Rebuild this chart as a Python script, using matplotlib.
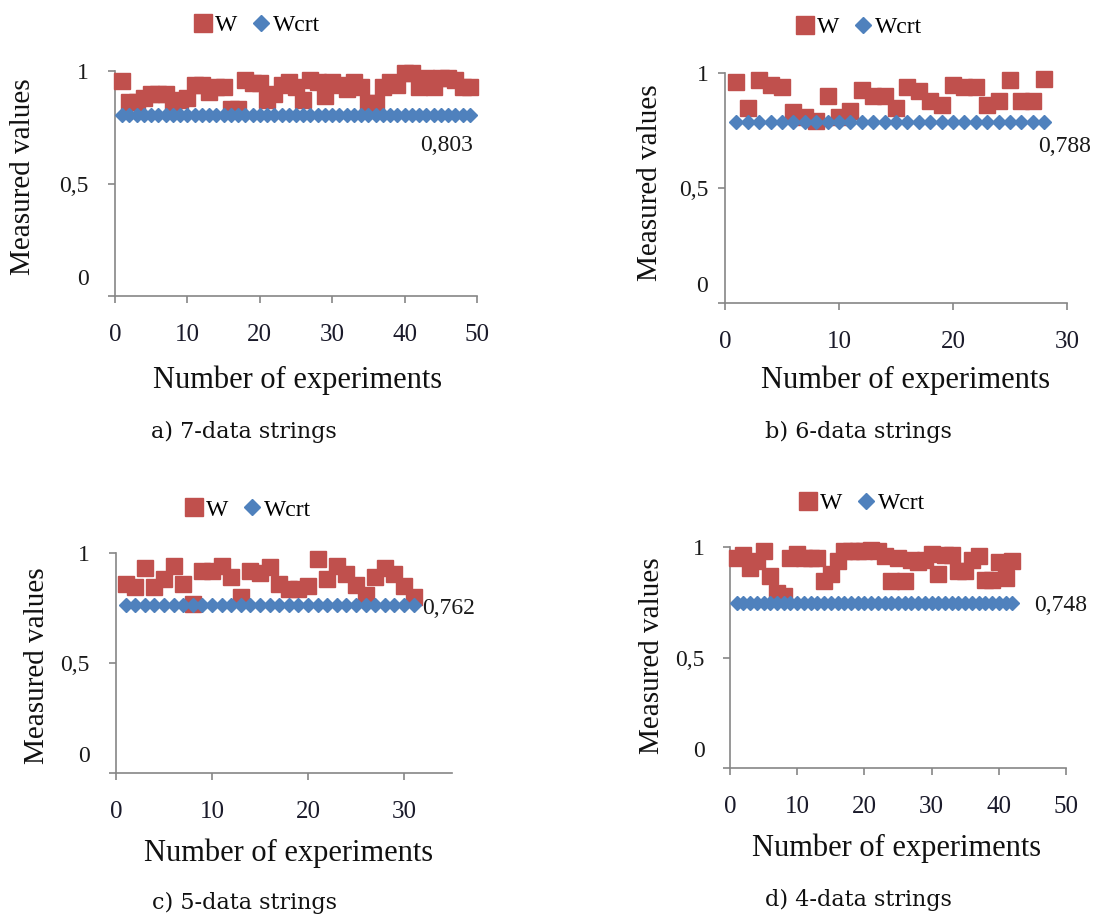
import matplotlib
matplotlib.use('Agg')
import matplotlib.pyplot as plt
from matplotlib.lines import Line2D
from matplotlib.transforms import ScaledTranslation

# ---------------- data ----------------
W_a = [0.955, 0.864, 0.864, 0.88, 0.90, 0.90, 0.90, 0.83, 0.87, 0.88,
       0.94, 0.94, 0.905, 0.93, 0.93, 0.83, 0.83, 0.96, 0.945, 0.945,
       0.87, 0.90, 0.94, 0.95, 0.93, 0.87, 0.96, 0.95, 0.89, 0.95,
       0.94, 0.92, 0.95, 0.93, 0.86, 0.86, 0.93, 0.95, 0.94, 0.99,
       0.99, 0.93, 0.97, 0.93, 0.97, 0.97, 0.96, 0.93, 0.93]
Wcrt_a = 0.803

W_b = [0.96, 0.85, 0.97, 0.95, 0.94, 0.83, 0.81, 0.79, 0.90, 0.81,
       0.835, 0.925, 0.90, 0.90, 0.85, 0.94, 0.92, 0.88, 0.86, 0.95,
       0.94, 0.94, 0.86, 0.88, 0.97, 0.88, 0.88, 0.975]
Wcrt_b = 0.788

W_c = [0.86, 0.845, 0.93, 0.845, 0.88, 0.94, 0.86, 0.77, 0.92, 0.92,
       0.94, 0.89, 0.80, 0.92, 0.91, 0.935, 0.86, 0.835, 0.835, 0.85,
       0.975, 0.88, 0.94, 0.905, 0.855, 0.81, 0.89, 0.93, 0.905, 0.85,
       0.80]
Wcrt_c = 0.762

W_d = [0.95, 0.965, 0.905, 0.935, 0.98, 0.87, 0.79, 0.78, 0.95, 0.97,
       0.95, 0.95, 0.95, 0.845, 0.88, 0.935, 0.98, 0.98, 0.98, 0.98,
       0.988, 0.98, 0.958, 0.845, 0.95, 0.845, 0.94, 0.93, 0.94, 0.97,
       0.88, 0.965, 0.965, 0.89, 0.89, 0.94, 0.958, 0.85, 0.85, 0.93,
       0.86, 0.935]
Wcrt_d = 0.748

captions = ["a) 7-data strings", "b) 6-data strings",
            "c) 5-data strings", "d) 4-data strings"]
ytick_vals = [0, 0.5, 1]
ytick_labels = ["0", "0,5", "1"]
xlabel_text = "Number of experiments"
ylabel_text = "Measured values"
series_names = ["W", "Wcrt"]
crt_labels = ["0,803", "0,788", "0,762", "0,748"]

# ---------------- style ----------------
W_COLOR = '#C0504D'
CRT_COLOR = '#4F81BD'
AX_COLOR = '#868686'
SERIF = ['Liberation Serif', 'DejaVu Serif']
CAP_FONT = ['DejaVu Serif']

FW, FH = 1094, 915
fig = plt.figure(figsize=(FW / 100, FH / 100), dpi=100)


def fx(px):
    return px / FW


def fy(py):
    return 1 - py / FH


# layout per panel (pixel coordinates in the reference)
layouts = [
    dict(W=W_a, crt=Wcrt_a, xmax=50, x0=115, x1=477, ytop=71, ybot=296,
         ypad=14, leg=(257, 25), ylab=(23, 177), xlab=(298, 380),
         cap=(244, 432), crt_off=(-17, -22), crt_ha='center'),
    dict(W=W_b, crt=Wcrt_b, xmax=30, x0=725, x1=1067, ytop=73, ybot=303,
         ypad=7, leg=(859, 27), ylab=(650, 183), xlab=(906, 380),
         cap=(858, 432), crt_off=(15, -18), crt_ha='center'),
    dict(W=W_c, crt=Wcrt_c, xmax=35, x0=116, x1=452, ytop=553, ybot=773,
         ypad=14, leg=(248, 510), ylab=(37, 666), xlab=(289, 853),
         cap=(245, 903), crt_off=(6, -2), crt_ha='left'),
    dict(W=W_d, crt=Wcrt_d, xmax=50, x0=730, x1=1066, ytop=547, ybot=768,
         ypad=13, leg=(862, 503), ylab=(652, 656), xlab=(897, 848),
         cap=(858, 900), crt_off=(16, -2), crt_ha='left'),
]

for i, L in enumerate(layouts):
    ax = fig.add_axes([fx(L['x0']), fy(L['ybot']),
                       fx(L['x1'] - L['x0']), (L['ybot'] - L['ytop']) / FH])
    W = L['W']
    xs = list(range(1, len(W) + 1))
    crt_series = [L['crt']] * len(W)
    ax.plot(xs, W, linestyle='none', marker='s', ms=11.5, color=W_COLOR,
            mec=W_COLOR, clip_on=False, zorder=3)
    ax.plot(xs, crt_series, linestyle='none', marker='D', ms=6.8,
            color=CRT_COLOR, mec=CRT_COLOR, clip_on=False, zorder=4)

    ax.set_xlim(0, L['xmax'])
    ax.set_ylim(0, 1)
    ax.set_xticks(list(range(0, L['xmax'] + 1, 10)))
    ax.set_yticks(ytick_vals)
    ax.set_yticklabels(ytick_labels)
    for s in ['top', 'right']:
        ax.spines[s].set_visible(False)
    for s in ['left', 'bottom']:
        ax.spines[s].set_color(AX_COLOR)
        ax.spines[s].set_linewidth(1.2)
    ax.tick_params(axis='x', direction='out', length=5, width=1.2,
                   color=AX_COLOR, pad=15, labelsize=18, labelcolor='#1a1a2a')
    ax.tick_params(axis='y', direction='out', length=5, width=1.2,
                   color=AX_COLOR, pad=L['ypad'], labelsize=17,
                   labelcolor='#1a1a1a')
    for lab in ax.get_xticklabels() + ax.get_yticklabels():
        lab.set_fontfamily(SERIF)
    # the "0" label sits a bit above the axis in the reference
    t0 = ax.yaxis.get_major_ticks()[0]
    t0.label1.set_transform(t0.label1.get_transform() +
                            ScaledTranslation(0, 0.19, fig.dpi_scale_trans))

    ax.set_ylabel(ylabel_text, fontsize=21, fontfamily=SERIF,
                  va='center', ha='center', color='#111111')
    ax.yaxis.set_label_coords(fx(L['ylab'][0]), fy(L['ylab'][1]),
                              transform=fig.transFigure)
    ax.set_xlabel(xlabel_text, fontsize=22, fontfamily=SERIF,
                  va='center', ha='center', color='#111111')
    ax.xaxis.set_label_coords(fx(L['xlab'][0]), fy(L['xlab'][1]),
                              transform=fig.transFigure)

    ax.annotate(crt_labels[i], xy=(xs[-1], L['crt']), xytext=L['crt_off'],
                textcoords='offset points', ha=L['crt_ha'], va='center',
                fontsize=17, fontfamily=SERIF, color='#1a1a1a',
                annotation_clip=False)

    handles = [Line2D([], [], linestyle='none', marker='s', ms=12.5,
                      color=W_COLOR),
               Line2D([], [], linestyle='none', marker='D', ms=8,
                      color=CRT_COLOR)]
    fig.legend(handles, series_names, loc='center', ncol=2, frameon=False,
               bbox_to_anchor=(fx(L['leg'][0]), fy(L['leg'][1])),
               prop={'family': SERIF, 'size': 17}, handlelength=0.8,
               handletextpad=0.1, columnspacing=0.6, borderaxespad=0,
               borderpad=0)

    fig.text(fx(L['cap'][0]), fy(L['cap'][1]), captions[i], ha='center',
             va='center', fontsize=16, fontfamily=CAP_FONT, color='#111111')

fig.savefig('out.png', dpi=100, facecolor='white')
